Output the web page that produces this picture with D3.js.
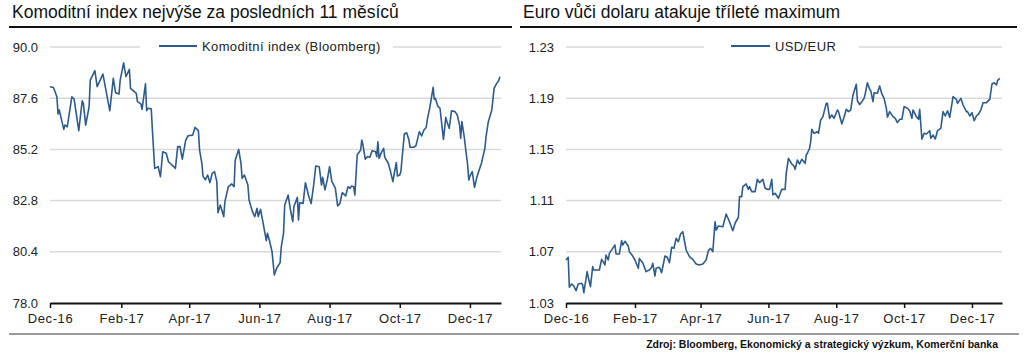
<!DOCTYPE html>
<html>
<head>
<meta charset="utf-8">
<script src="https://cdn.jsdelivr.net/npm/d3@7"></script>
<style>
  html, body { margin: 0; padding: 0; background: #fff; }
  svg { display: block; font-family: "Liberation Sans", Arial, sans-serif; }
</style>
</head>
<body>
<svg id="chart" width="1024" height="356"></svg>
<script>
// ---------- DATA ----------
const startDate = "2016-12-01";
const endDate = "2017-12-28";
const xTickDates = ["2016-12-01","2017-02-01","2017-04-01","2017-06-01","2017-08-01","2017-10-01","2017-12-01"];
const xTickLabels = ["Dec-16","Feb-17","Apr-17","Jun-17","Aug-17","Oct-17","Dec-17"];

const komTitle = "Komoditní index nejvýše za posledních 11 měsíců";
const komLegend = "Komoditní index (Bloomberg)";
const komTicks = [78.0, 80.4, 82.8, 85.2, 87.6, 90.0];
// days since 2016-12-01
const komDays = [0,3,6,7,8,12,13,15,19,21,25,28,29,31,34,35,39,41,46,52,55,57,60,61,64,66,69,70,75,76,79,80,83,84,85,88,89,91,94,96,98,101,103,107,109,111,113,115,118,120,124,126,129,130,132,133,135,137,139,141,143,145,146,148,151,152,155,158,160,161,164,166,167,169,172,173,176,178,180,181,183,185,188,189,191,193,195,197,200,201,203,204,207,209,211,212,215,216,217,220,222,225,227,229,231,234,236,237,239,241,243,245,248,250,252,254,257,259,261,262,264,265,267,270,271,272,274,276,278,280,283,284,285,286,288,290,291,294,296,298,299,301,302,304,305,306,308,310,312,313,316,318,320,321,323,325,327,328,330,331,333,334,335,337,339,341,342,344,345,347,349,352,354,356,357,358,360,363,364,365,367,369,371,373,375,378,379,381,384,386,388,390,391];
const komValues = [88.14,88.10,87.67,86.86,87.05,86.14,86.34,86.26,87.67,87.55,86.08,87.48,87.36,86.34,87.20,88.45,88.89,88.14,88.73,87.01,88.53,87.86,87.80,88.45,89.26,88.61,88.95,88.06,87.83,87.44,87.33,87.08,88.27,87.01,87.13,87.10,86.11,84.31,84.39,83.92,85.09,85.02,84.62,84.42,84.31,85.33,85.33,84.74,85.64,85.84,85.87,86.23,86.08,85.17,84.55,83.95,83.77,84.00,83.64,84.08,84.16,83.69,82.23,82.59,82.05,82.75,83.45,83.58,83.45,84.70,85.20,84.55,83.84,84.00,83.53,82.83,82.28,82.05,82.44,82.05,82.39,81.81,80.92,81.27,80.87,80.40,79.31,79.63,79.89,80.61,81.27,82.59,83.06,82.36,81.81,82.52,82.95,81.89,82.70,82.67,83.64,82.98,82.67,83.45,84.42,84.39,83.53,83.89,83.30,83.77,84.39,83.69,83.38,82.55,82.67,83.17,83.02,83.45,83.38,83.48,83.45,83.06,84.94,85.17,85.64,85.41,84.74,84.86,84.83,85.14,85.09,84.86,85.56,84.78,85.05,85.25,84.83,84.55,84.16,83.69,84.00,84.58,83.95,84.00,84.16,84.78,85.92,85.98,85.64,85.30,85.30,85.36,85.80,86.03,85.83,86.11,86.23,86.61,87.13,87.44,88.11,87.55,87.59,87.23,87.13,86.14,85.67,86.70,86.50,86.19,87.01,86.97,86.81,86.34,85.72,86.50,85.80,84.47,83.77,83.95,84.16,83.42,83.89,84.23,84.55,85.25,85.80,86.50,87.05,88.06,88.27,88.42,88.61];

const fxTitle = "Euro vůči dolaru atakuje tříleté maximum";
const fxLegend = "USD/EUR";
const fxTicks = [1.03, 1.07, 1.11, 1.15, 1.19, 1.23];
const fxDays = [0,2,3,5,7,9,11,14,15,16,19,20,22,24,25,28,30,32,34,35,36,38,39,42,44,45,48,50,51,53,56,57,60,62,65,66,68,69,72,75,77,78,80,81,84,86,89,91,93,95,97,99,101,103,105,108,111,114,117,120,123,126,128,130,132,134,135,137,141,144,147,150,152,155,156,158,159,162,164,165,167,170,172,174,177,179,181,183,185,186,188,191,194,197,198,200,203,205,206,208,210,212,215,216,217,219,220,221,223,226,227,229,231,234,235,237,239,241,244,245,248,250,252,254,256,258,261,262,264,266,267,268,269,271,273,274,276,277,280,282,284,286,288,289,291,294,296,298,300,302,304,307,309,311,312,315,317,318,320,322,324,327,328,330,332,334,337,339,341,343,345,348,351,352,355,357,360,361,363,365,367,369,371,373,375,378,381,383,385,387,388,390];
const fxValues = [1.0636,1.0657,1.0423,1.0448,1.0433,1.0396,1.0448,1.0454,1.0441,1.0380,1.0545,1.0501,1.0428,1.0584,1.0558,1.0558,1.0558,1.0641,1.0615,1.0597,1.0675,1.0636,1.0688,1.0727,1.0753,1.0683,1.0683,1.0787,1.0753,1.0782,1.0745,1.0701,1.0667,1.0636,1.0571,1.0649,1.0623,1.0615,1.0545,1.0558,1.0579,1.0610,1.0511,1.0571,1.0579,1.0537,1.0667,1.0657,1.0615,1.0735,1.0727,1.0805,1.0779,1.0839,1.0857,1.0714,1.0662,1.0641,1.0605,1.0597,1.0605,1.0636,1.0709,1.0727,1.0701,1.0935,1.0870,1.0902,1.0896,1.0995,1.0935,1.0865,1.0923,1.0970,1.1131,1.1131,1.1209,1.1230,1.1188,1.1209,1.1170,1.1170,1.1266,1.1240,1.1266,1.1196,1.1188,1.1188,1.1266,1.1144,1.1157,1.1118,1.1188,1.1188,1.1313,1.1430,1.1386,1.1370,1.1344,1.1417,1.1386,1.1423,1.1391,1.1456,1.1470,1.1509,1.1560,1.1657,1.1626,1.1638,1.1626,1.1730,1.1756,1.1860,1.1860,1.1743,1.1769,1.1743,1.1808,1.1795,1.1698,1.1751,1.1813,1.1795,1.1808,1.1925,1.2009,1.1880,1.1850,1.1873,1.1886,1.1899,1.1933,1.2021,1.1970,1.1959,1.1873,1.1943,1.1938,1.1995,1.1933,1.1899,1.1821,1.1751,1.1795,1.1756,1.1743,1.1709,1.1735,1.1735,1.1834,1.1821,1.1802,1.1743,1.1808,1.1756,1.1735,1.1813,1.1579,1.1626,1.1620,1.1646,1.1587,1.1612,1.1581,1.1646,1.1665,1.1795,1.1761,1.1802,1.1751,1.1912,1.1891,1.1860,1.1899,1.1847,1.1795,1.1795,1.1761,1.1787,1.1724,1.1761,1.1777,1.1808,1.1865,1.1865,1.1891,1.2011,1.2021,1.2003,1.2037,1.2055];

const sourceNote = "Zdroj: Bloomberg, Ekonomický a strategický výzkum, Komerční banka";

// ---------- DRAW ----------
const svg = d3.select("#chart");
const FONT = "'Liberation Sans', Arial, sans-serif";
const LINE_COLOR = "#2d5b8c";
const parse = d3.timeParse("%Y-%m-%d");
const d0 = parse(startDate);

function panel(cfg) {
  const g = svg.append("g");
  // title
  g.append("text").attr("x", cfg.titleX).attr("y", 18)
    .attr("font-size", 17.5).attr("fill", "#111").attr("font-family", FONT)
    .text(cfg.title);
  g.append("line").attr("x1", cfg.ruleX1).attr("x2", cfg.ruleX2)
    .attr("y1", 27).attr("y2", 27).attr("stroke", "#111").attr("stroke-width", 2);

  const x = d3.scaleTime().domain([d0, parse(endDate)]).range([cfg.x0, cfg.x1]);
  const y = d3.scaleLinear().domain([cfg.ticks[0], cfg.ticks[cfg.ticks.length - 1]]).range([303, 47]);

  // gridlines
  g.append("g").selectAll("line").data(cfg.ticks.slice(1)).join("line")
    .attr("x1", cfg.x0).attr("x2", cfg.x1)
    .attr("y1", d => y(d)).attr("y2", d => y(d))
    .attr("stroke", "#d9d9d9").attr("stroke-width", 1.5);

  // y axis labels
  const yAxis = d3.axisLeft(y).tickValues(cfg.ticks).tickFormat(d3.format(cfg.fmt))
    .tickSize(0).tickPadding(12);
  const yg = g.append("g").attr("transform", `translate(${cfg.x0},0)`).call(yAxis);
  yg.select(".domain").remove();
  yg.selectAll("text").attr("font-size", 13).attr("font-family", FONT).attr("fill", "#222");

  // x axis
  const xAxis = d3.axisBottom(x).tickValues(xTickDates.map(parse))
    .tickFormat((d, i) => xTickLabels[i]).tickSizeInner(5).tickSizeOuter(0).tickPadding(6);
  const xg = g.append("g").attr("transform", "translate(0,303)").call(xAxis);
  xg.select(".domain").attr("stroke", "#111").attr("stroke-width", 2);
  xg.selectAll(".tick line").attr("stroke", "#111").attr("stroke-width", 1.5);
  xg.selectAll("text").attr("font-size", 13).attr("letter-spacing", "0.6px")
    .attr("font-family", FONT).attr("fill", "#222");

  // line
  const data = cfg.days.map((dd, i) => ({ date: d3.timeDay.offset(d0, dd), value: cfg.values[i] }));
  const line = d3.line().x(d => x(d.date)).y(d => y(d.value));
  g.append("path").datum(data).attr("d", line)
    .attr("fill", "none").attr("stroke", LINE_COLOR).attr("stroke-width", 1.6)
    .attr("stroke-linejoin", "round");

  // legend
  g.append("rect").attr("x", cfg.legBox[0]).attr("y", 38)
    .attr("width", cfg.legBox[1] - cfg.legBox[0]).attr("height", 17).attr("fill", "#fff");
  g.append("line").attr("x1", cfg.legLine[0]).attr("x2", cfg.legLine[1])
    .attr("y1", 46).attr("y2", 46).attr("stroke", LINE_COLOR).attr("stroke-width", 2);
  g.append("text").attr("x", cfg.legLine[1] + 5).attr("y", 46).attr("dy", "0.35em")
    .attr("font-size", 13).attr("letter-spacing", "0.38px").attr("font-family", FONT).attr("fill", "#222")
    .text(cfg.legend);
}

panel({
  title: komTitle, titleX: 12, ruleX1: 9, ruleX2: 512,
  x0: 50, x1: 501, ticks: komTicks, fmt: ".1f",
  days: komDays, values: komValues, legend: komLegend,
  legBox: [140, 393], legLine: [159, 197]
});
panel({
  title: fxTitle, titleX: 523, ruleX1: 520, ruleX2: 1017,
  x0: 566, x1: 1002, ticks: fxTicks, fmt: ".2f",
  days: fxDays, values: fxValues, legend: fxLegend,
  legBox: [704, 859], legLine: [731, 770]
});

// bottom rule and source
svg.append("line").attr("x1", 9).attr("x2", 1019).attr("y1", 334).attr("y2", 334)
  .attr("stroke", "#9a9a9a").attr("stroke-width", 2);
svg.append("text").attr("x", 998).attr("y", 348).attr("text-anchor", "end")
  .attr("font-size", 10.5).attr("font-weight", "bold").attr("font-family", FONT).attr("fill", "#111")
  .text(sourceNote);
</script>
</body>
</html>
